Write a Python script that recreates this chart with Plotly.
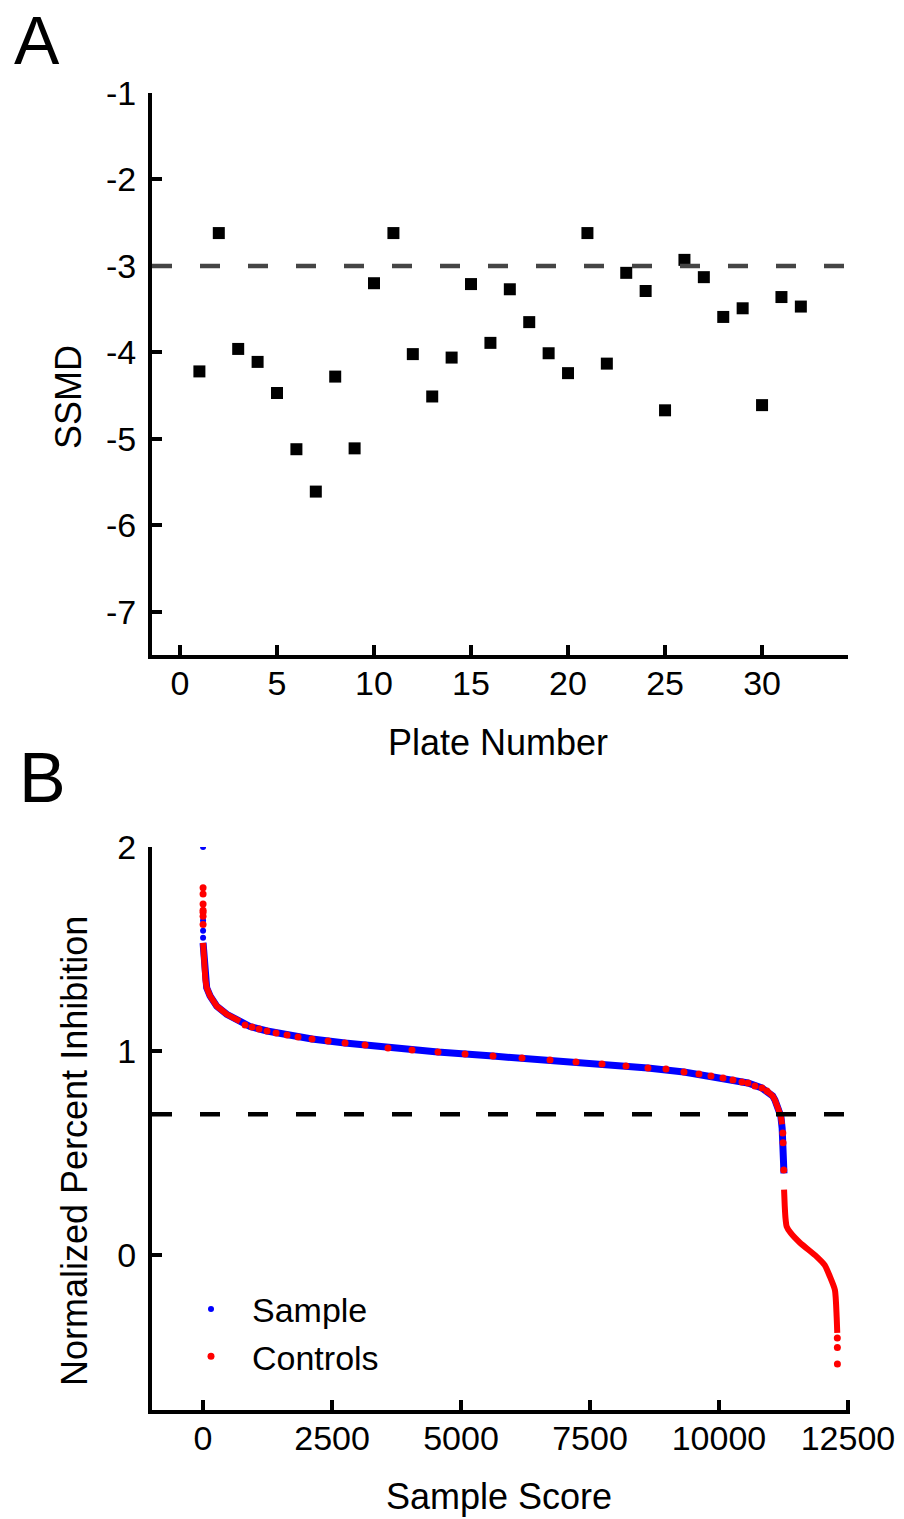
import plotly.graph_objects as go

# ---------------- Panel A data ----------------
plate_number = list(range(1, 33))
ssmd = [-4.22, -2.62, -3.96, -4.11, -4.47, -5.12, -5.61, -4.28, -5.11, -3.20,
        -2.62, -4.02, -4.51, -4.06, -3.21, -3.89, -3.27, -3.65, -4.01, -4.24,
        -2.62, -4.13, -3.08, -3.29, -4.67, -2.93, -3.13, -3.59, -3.49, -4.61,
        -3.36, -3.47]
ssmd_threshold = -3.0
a_xticks = [0, 5, 10, 15, 20, 25, 30]
a_yticks = [-1, -2, -3, -4, -5, -6, -7]
a_yticklabels = ["-1", "-2", "-3", "-4", "-5", "-6", "-7"]

# ---------------- Panel B data ----------------
sample_rank = [0, 10, 25, 45, 70, 135, 265, 460, 717, 910, 1240, 1630, 2110, 2750, 3590,
               4550, 5620, 6720, 7730, 8620, 9320, 9850, 10270, 10560, 10830, 10930, 11040,
               11085, 11150, 11200, 11225, 11240, 11252, 11260]
sample_npi = [1.53, 1.47, 1.40, 1.35, 1.31, 1.27, 1.22, 1.18, 1.145, 1.12, 1.098, 1.078, 1.059,
              1.039, 1.015, 0.995, 0.975, 0.956, 0.936, 0.917, 0.897, 0.877, 0.858, 0.843,
              0.819, 0.804, 0.78, 0.76, 0.72, 0.68, 0.62, 0.56, 0.48, 0.40]
sample_iso_rank = [0, 0, 0, 0]
sample_iso_npi = [2.0, 1.64, 1.59, 1.555]

control_top_rank = [0, 10, 25, 45, 70, 135, 265, 460, 717]
control_top_npi = [1.53, 1.47, 1.40, 1.35, 1.31, 1.27, 1.22, 1.18, 1.145]
control_top_iso_rank = [0, 0, 0, 0, 0, 0, 0]
control_top_iso_npi = [1.80, 1.77, 1.72, 1.69, 1.68, 1.66, 1.62]
control_mid_rank = [814, 950, 1085, 1240, 1415, 1628, 1841, 2112, 2423, 2752, 3140, 3585, 4050,
                    4554, 5078, 5620, 6182, 6725, 7229, 7733, 8198, 8624, 8973, 9322, 9612, 9845,
                    10078, 10271, 10446, 10562, 10698, 10834, 10930]
control_mid_npi = [1.127, 1.118, 1.108, 1.098, 1.088, 1.078, 1.069, 1.059, 1.049, 1.039, 1.029,
                   1.015, 1.005, 0.995, 0.985, 0.975, 0.966, 0.956, 0.946, 0.936, 0.927, 0.917,
                   0.912, 0.897, 0.887, 0.877, 0.868, 0.858, 0.848, 0.843, 0.828, 0.819, 0.804]
control_cliff_rank = [10930, 11040, 11085, 11150, 11200, 11222]
control_cliff_npi = [0.804, 0.78, 0.76, 0.72, 0.68, 0.64]
control_cliff_iso_rank = [11238, 11242, 11256]
control_cliff_iso_npi = [0.598, 0.55, 0.417]
control_low_rank = [11262, 11275, 11290, 11312, 11390, 11570, 11893, 12050, 12151, 12248,
                    12281, 12293]
control_low_npi = [0.32, 0.24, 0.18, 0.14, 0.108, 0.06, -0.008, -0.05, -0.106, -0.172,
                   -0.302, -0.382]
control_low_iso_rank = [12294, 12295, 12296]
control_low_iso_npi = [-0.407, -0.454, -0.534]
npi_threshold = 0.69
b_xticks = [0, 2500, 5000, 7500, 10000, 12500]
b_xticklabels = ["0", "2500", "5000", "7500", "10000", "12500"]
b_yticks = [0, 1, 2]

FONT = "Liberation Sans, Arial, sans-serif"
BLUE = "#0000FF"
RED = "#FF0000"
OFF = 8                      # default page body margin
W, H = 904 - OFF, 1519 - OFF


def px(x):
    return (x - OFF) / W


def py(y):
    return 1 - (y - OFF) / H


fig = go.Figure()

# Panel A
fig.add_trace(go.Scatter(x=plate_number, y=ssmd, mode="markers", xaxis="x", yaxis="y",
                         marker=dict(symbol="square", size=12, color="black", line=dict(width=0)),
                         showlegend=False))

# Panel B - samples
fig.add_trace(go.Scatter(x=sample_rank, y=sample_npi, mode="lines", xaxis="x2", yaxis="y2",
                         line=dict(color=BLUE, width=7), legendgroup="s", showlegend=False))
fig.add_trace(go.Scatter(x=sample_iso_rank, y=sample_iso_npi, mode="markers", xaxis="x2", yaxis="y2",
                         marker=dict(color=BLUE, size=6), name="Sample", legendgroup="s",
                         showlegend=True))
# Panel B - controls
for rx, ry, shp in [(control_top_rank, control_top_npi, "linear"),
                    (control_cliff_rank, control_cliff_npi, "linear"),
                    (control_low_rank, control_low_npi, "spline")]:
    fig.add_trace(go.Scatter(x=rx, y=ry, mode="lines", xaxis="x2", yaxis="y2",
                             line=dict(color=RED, width=6, shape=shp, smoothing=0.6),
                             legendgroup="c", showlegend=False))
first = True
for rx, ry in [(control_top_iso_rank, control_top_iso_npi), (control_mid_rank, control_mid_npi),
               (control_cliff_iso_rank, control_cliff_iso_npi),
               (control_low_iso_rank, control_low_iso_npi)]:
    fig.add_trace(go.Scatter(x=rx, y=ry, mode="markers", xaxis="x2", yaxis="y2",
                             marker=dict(color=RED, size=7), name="Controls", legendgroup="c",
                             showlegend=first))
    first = False

axis_common = dict(showline=True, linewidth=4, linecolor="black", ticks="inside", ticklen=10,
                   tickwidth=4, tickcolor="black", showgrid=False, zeroline=False,
                   automargin=False,
                   tickfont=dict(family=FONT, size=34, color="black"))

fig.update_layout(
    template="none",
    width=W, height=H, margin=dict(l=0, r=0, t=0, b=0, pad=0), autosize=False,
    paper_bgcolor="white", plot_bgcolor="white",
    xaxis=dict(domain=[px(152), px(848)], range=[-1.443, 34.43], tickvals=a_xticks,
               anchor="y", ticklabelstandoff=-5, **axis_common),
    yaxis=dict(domain=[py(655), py(93)], range=[-7.5, -1], tickvals=a_yticks,
               ticktext=a_yticklabels, anchor="x", ticklabelstandoff=5, **axis_common),
    xaxis2=dict(domain=[px(152), px(850)], range=[-990, 12540], tickvals=b_xticks,
                ticktext=b_xticklabels, anchor="y2", ticklabelstandoff=-5, **axis_common),
    yaxis2=dict(domain=[py(1410), py(847)], range=[-0.76, 2.0], tickvals=b_yticks,
                anchor="x2", ticklabelstandoff=5, **axis_common),
    legend=dict(x=px(170), xanchor="left", y=py(1333), yanchor="middle",
                font=dict(family=FONT, size=34, color="black"), bgcolor="rgba(0,0,0,0)",
                itemwidth=72, tracegroupgap=0),
    shapes=[
        dict(type="line", xref="x domain", yref="y", x0=0, x1=1, y0=ssmd_threshold,
             y1=ssmd_threshold, line=dict(color="#454545", width=4.5, dash="20px,28px")),
        dict(type="line", xref="x2 domain", yref="y2", x0=0, x1=1, y0=npi_threshold,
             y1=npi_threshold, line=dict(color="black", width=4.5, dash="20px,28px")),
    ],
    annotations=[
        dict(text="A", x=px(37), y=py(40), xref="paper", yref="paper", showarrow=False,
             xanchor="center", yanchor="middle", font=dict(family=FONT, size=68, color="black")),
        dict(text="B", x=px(42), y=py(778), xref="paper", yref="paper", showarrow=False,
             xanchor="center", yanchor="middle", font=dict(family=FONT, size=70, color="black")),
        dict(text="SSMD", x=px(68), y=py(397), xref="paper", yref="paper", showarrow=False,
             textangle=-90, xanchor="center", yanchor="middle",
             font=dict(family=FONT, size=36, color="black")),
        dict(text="Normalized Percent Inhibition", x=px(74), y=py(1151), xref="paper",
             yref="paper", showarrow=False, textangle=-90, xanchor="center", yanchor="middle",
             font=dict(family=FONT, size=36, color="black")),
        dict(text="Plate Number", x=px(498), y=py(742), xref="paper", yref="paper",
             showarrow=False, xanchor="center", yanchor="middle",
             font=dict(family=FONT, size=36, color="black")),
        dict(text="Sample Score", x=px(499), y=py(1496), xref="paper", yref="paper",
             showarrow=False, xanchor="center", yanchor="middle",
             font=dict(family=FONT, size=36, color="black")),
    ],
)

fig.write_html("out.html")
